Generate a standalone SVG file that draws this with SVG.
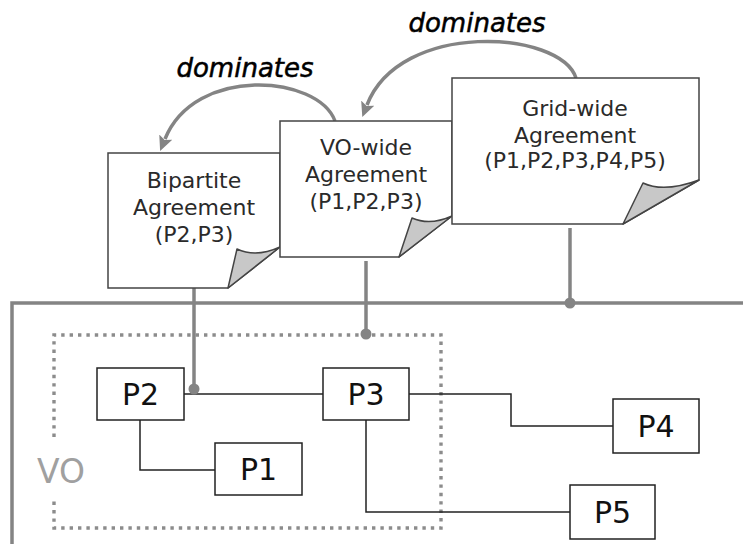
<svg xmlns="http://www.w3.org/2000/svg" width="743" height="544" viewBox="0 0 743 544">
<style>
.doc{fill:#fff;stroke:#444;stroke-width:1.5;stroke-linejoin:miter}
.curl{fill:#c8c8c8;stroke:#444;stroke-width:1.5;stroke-linejoin:round}
.dt{font-family:"DejaVu Sans",Verdana,sans-serif;font-size:22px;fill:#2a2a2a;text-anchor:middle}
.box{fill:#fff;stroke:#222;stroke-width:1.5}
.bt{font-family:"DejaVu Sans",Verdana,sans-serif;font-size:30px;fill:#111;text-anchor:middle}
.wire{fill:none;stroke:#222;stroke-width:1.5}
.bus{fill:none;stroke:#848484;stroke-width:3.5}
.dot{fill:#848484}
.arc{fill:none;stroke:#848484;stroke-width:3.5;marker-end:url(#ah)}
.dom{font-family:"DejaVu Sans",Verdana,sans-serif;font-size:26px;font-style:italic;fill:#000;stroke:#000;stroke-width:0.5;text-anchor:middle}
</style>
<defs>
<marker id="ah" viewBox="0 0 15 14" refX="2" refY="7" markerWidth="15" markerHeight="14" markerUnits="userSpaceOnUse" orient="auto">
<path d="M0,0 L15,7 L0,14 L3,7 Z" fill="#848484"/>
</marker>
</defs>
<rect width="743" height="544" fill="#fff"/>

<g id="frame">
<path class="bus" d="M12,544 V303 H743"/>
<path d="M54,437 V335 H441 V528 H54 V498" fill="none" stroke="#8c8c8c" stroke-width="3.4" stroke-dasharray="3.4 5"/>
<text x="61" y="483" font-family="'DejaVu Sans',Verdana,sans-serif" font-size="33" fill="#a0a0a0" text-anchor="middle">VO</text>
</g>

<g id="connectors">
<path class="wire" d="M184,394 H323"/>
<path class="wire" d="M140,420 V470 H215"/>
<path class="wire" d="M409,394 H511 V426 H613"/>
<path class="wire" d="M366,420 V512 H570"/>
<path class="bus" d="M194,282 V389"/>
<circle class="dot" cx="194" cy="389" r="5.5"/>
<path class="bus" d="M366,261 V334"/>
<circle class="dot" cx="366" cy="334" r="5.5"/>
<path class="bus" d="M570,228 V303"/>
<circle class="dot" cx="570" cy="303" r="5.5"/>
<path class="arc" d="M335,121 C318,75 195,65 165,139"/>
<path class="arc" d="M576,78 C560,30 400,20 367,105"/>
<text class="dom" x="245" y="77">dominates</text>
<text class="dom" x="477" y="32">dominates</text>
</g>

<g id="bipartite">
<path class="doc" d="M108,153 H280 V247 L228,288 H108 Z"/>
<path class="curl" d="M228,288 L237,249 Q256,258 280,247 Z"/>
<text class="dt" x="194" y="188">Bipartite</text>
<text class="dt" x="194" y="215">Agreement</text>
<text class="dt" x="194" y="242">(P2,P3)</text>
</g>

<g id="vowide">
<path class="doc" d="M280,121 H452 V216 L399,257 H280 Z"/>
<path class="curl" d="M399,257 L412,218 Q430,226 452,216 Z"/>
<text class="dt" x="366" y="155">VO-wide</text>
<text class="dt" x="366" y="182">Agreement</text>
<text class="dt" x="366" y="209">(P1,P2,P3)</text>
</g>

<g id="gridwide">
<path class="doc" d="M452,78 H699 V180 L623,224 H452 Z"/>
<path class="curl" d="M623,224 L643,183 Q664,193 699,180 Z"/>
<text class="dt" x="575" y="116">Grid-wide</text>
<text class="dt" x="575" y="143">Agreement</text>
<text class="dt" x="575" y="168">(P1,P2,P3,P4,P5)</text>
</g>

<g id="p2"><rect class="box" x="97" y="368" width="87" height="52"/><text class="bt" x="140.5" y="405">P2</text></g>
<g id="p3"><rect class="box" x="323" y="368" width="86" height="52"/><text class="bt" x="366" y="405">P3</text></g>
<g id="p1"><rect class="box" x="215" y="443" width="87" height="52"/><text class="bt" x="258.5" y="480">P1</text></g>
<g id="p4"><rect class="box" x="613" y="399" width="86" height="54"/><text class="bt" x="656" y="437">P4</text></g>
<g id="p5"><rect class="box" x="570" y="485" width="85" height="54"/><text class="bt" x="612.5" y="523">P5</text></g>
</svg>
